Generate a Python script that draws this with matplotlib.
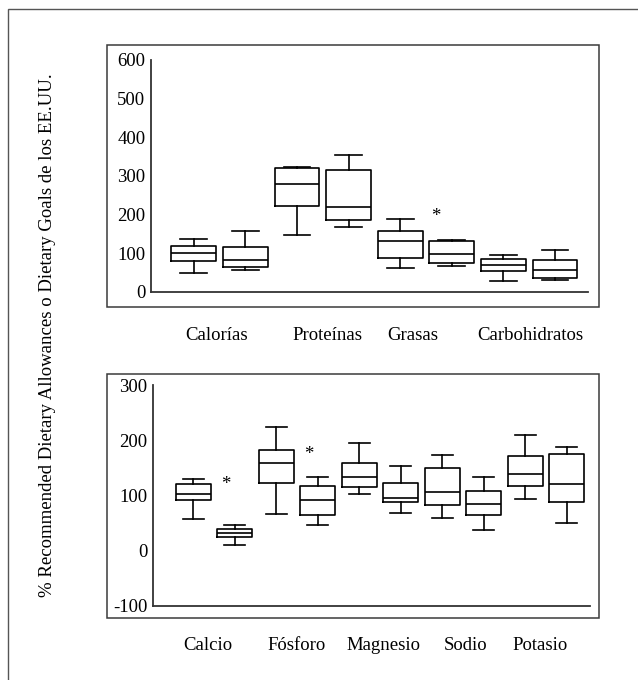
"""Boxplots de % RDA / Dietary Goals (macro y micronutrientes)."""

import matplotlib

matplotlib.use("Agg")
import matplotlib.pyplot as plt
from matplotlib.patches import Rectangle

plt.rcParams["font.family"] = ["Liberation Serif", "DejaVu Serif"]

# --- datos ---
macro_labels = ["Calorías", "Proteínas", "Grasas", "Carbohidratos"]
# dos cajas por nutriente: whislo, q1, med, q3, whishi
macro_whislo = [49, 56, 147, 167, 63, 66, 28, 30]
macro_q1 = [81, 65, 222, 187, 89, 75, 54, 36]
macro_med = [101, 82, 279, 219, 133, 98, 71, 57]
macro_q3 = [120, 117, 320, 316, 159, 131, 86, 82]
macro_whishi = [138, 159, 324, 354, 189, 134, 96, 108]
macro_star_box = [6]          # caja (1-based) con asterisco
macro_star_val = [196]

micro_labels = ["Calcio", "Fósforo", "Magnesio", "Sodio", "Potasio"]
micro_whislo = [57, 11, 67, 46, 102, 68, 60, 38, 94, 50]
micro_q1 = [92, 25, 123, 64, 116, 88, 83, 64, 118, 89]
micro_med = [102, 33, 159, 91, 133, 96, 106, 85, 139, 121]
micro_q3 = [121, 39, 183, 118, 158, 123, 150, 109, 171, 175]
micro_whishi = [129, 46, 224, 134, 195, 153, 173, 133, 209, 187]
micro_star_box = [2, 4]
micro_star_val = [120, 175]

ylabel = "% Recommended Dietary Allowances o Dietary Goals de los EE.UU."

W, H = 638, 680
FS = 13.5

# pequeños desplazamientos de las etiquetas respecto al centro de cada par
macro_nudge = [-0.05, 0.09, -0.26, 0.03]
micro_nudge = [-0.14, 0.0, 0.09, 0.05, -0.15]


def _stats(lo, q1, med, q3, hi):
    return [
        {"whislo": a, "q1": b, "med": c, "q3": d, "whishi": e, "fliers": []}
        for a, b, c, d, e in zip(lo, q1, med, q3, hi)
    ]


def _fig_rect(px_left, px_top, px_right, px_bottom):
    return [px_left / W, 1 - px_bottom / H, (px_right - px_left) / W, (px_bottom - px_top) / H]


def _panel(fig, ax_px, frame_px, stats, labels, nudge, ylim, yticks, xlim, width,
           star_box, star_val, star_dx, label_pad):
    # marco del panel
    l, t, r, b = frame_px
    fig.add_artist(Rectangle((l / W, 1 - b / H), (r - l) / W, (b - t) / H,
                             transform=fig.transFigure, fill=False,
                             edgecolor="#3a3a3a", linewidth=1.1))
    ax = fig.add_axes(_fig_rect(*ax_px))
    n = len(stats)
    pos = list(range(1, n + 1))
    line = dict(color="black", linewidth=1.2)
    ax.bxp(stats, positions=pos, widths=width, showfliers=False,
           boxprops=line, medianprops=line, whiskerprops=line,
           capprops=line, capwidths=width * 0.6)
    for bi, v in zip(star_box, star_val):
        ax.text(bi + star_dx, v, "*", ha="center", va="center", fontsize=FS)
    ax.set_xlim(*xlim)
    ax.set_ylim(*ylim)
    ax.set_yticks(yticks)
    ax.set_yticklabels([str(v) for v in yticks], fontsize=FS)
    mids = [2 * i + 1.5 + d for i, d in enumerate(nudge)]
    ax.set_xticks(mids)
    ax.set_xticklabels(labels, fontsize=FS)
    ax.tick_params(axis="y", length=0, pad=4)
    ax.tick_params(axis="x", length=0, pad=label_pad)
    for s in ["top", "right"]:
        ax.spines[s].set_visible(False)
    for s in ["left", "bottom"]:
        ax.spines[s].set_color("#333333")
        ax.spines[s].set_linewidth(1.3)
    ax.patch.set_alpha(0)
    return ax


def main() -> None:
    fig = plt.figure(figsize=(W / 100, H / 100), dpi=100)

    # marco exterior (solo se ven los bordes izquierdo y superior)
    fig.add_artist(Rectangle((8 / W, -0.05), 1.1, 1 - 9 / H + 0.05,
                             transform=fig.transFigure, fill=False,
                             edgecolor="#555555", linewidth=1.0))

    _panel(fig, (151, 60, 588, 292), (107, 45, 599, 307),
           _stats(macro_whislo, macro_q1, macro_med, macro_q3, macro_whishi),
           macro_labels, macro_nudge, (0, 600), [0, 100, 200, 300, 400, 500, 600],
           (0.17, 8.64), 0.87, macro_star_box, macro_star_val, -0.31, 25)

    _panel(fig, (153, 385, 590, 606), (107, 374, 599, 618),
           _stats(micro_whislo, micro_q1, micro_med, micro_q3, micro_whishi),
           micro_labels, micro_nudge, (-100, 300), [-100, 0, 100, 200, 300],
           (0.03, 10.56), 0.84, micro_star_box, micro_star_val, -0.21, 22)

    fig.text(48 / W, 1 - 335 / H, ylabel, rotation=90, ha="center",
             va="center", fontsize=FS)

    fig.savefig("out.png", dpi=100)
    plt.close(fig)


if __name__ == "__main__":
    main()
